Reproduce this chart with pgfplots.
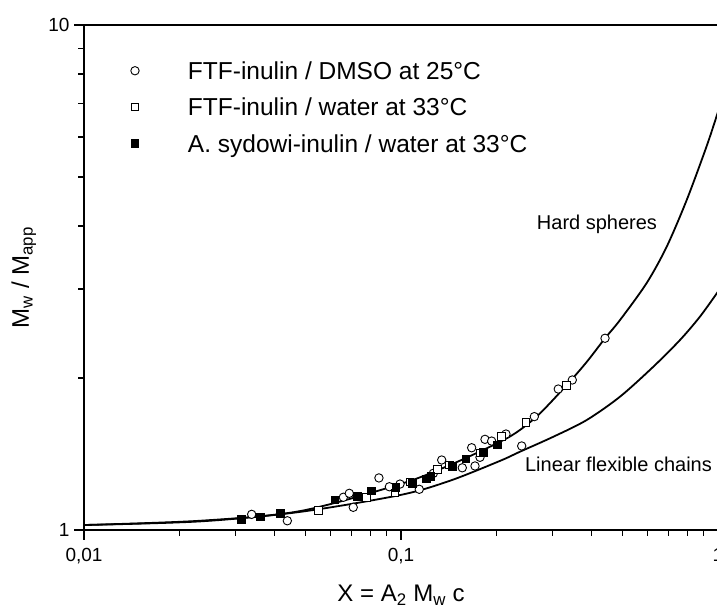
\documentclass[border=0pt]{standalone}
\usepackage{pgfplots}
\pgfplotsset{compat=1.18}
\usepackage{fontspec}
\setmainfont{Liberation Sans}
\begin{document}
\begin{tikzpicture}
\begin{axis}[
  at={(0pt,0pt)}, anchor=south west,
  scale only axis, width=634pt, height=505pt,
  xmode=log, ymode=log,
  xmin=0.01, xmax=1, ymin=1, ymax=10,
  xtick={0.01,0.1,1}, xticklabels={{0,01},{0,1},1},
  ytick={1,10}, yticklabels={1,10},
  tick align=outside, xtick pos=bottom, ytick pos=left,
  major tick length=10pt, minor tick length=6pt,
  axis line style={line width=1.3pt},
  tick style={line width=1.2pt, black},
  tick label style={font=\fontsize{19}{22}\selectfont},
  xticklabel style={yshift=-5pt},
  yticklabel style={xshift=-1pt},
  xlabel={X = A\textsubscript{2} M\textsubscript{w} c},
  ylabel={M\textsubscript{w} / M\textsubscript{app}},
  label style={font=\fontsize{24}{28}\selectfont},
  xlabel style={at={([yshift=-71.6pt]axis description cs:0.5,0)}, anchor=base},
  ylabel style={at={([xshift=-55pt]axis description cs:0,0.5)}, anchor=base, rotate=0},
  legend cell align=left,
  legend style={draw=none, fill=none, at={(axis description cs:0,1)}, anchor=north west,
    xshift=41pt, yshift=-37pt, row sep=18.8pt, inner sep=0pt, outer sep=0pt,
    font=\fontsize{24.5}{29}\selectfont,
    nodes={inner sep=0pt, text height=17.5pt, text depth=0pt}},
  legend image code/.code={\path[draw=none] (-10pt,0pt) -- (53pt,0pt); \draw[#1] plot coordinates {(0pt,0pt)};},
]
% Hard spheres
\addplot[black, line width=1.8pt, smooth, no marks, forget plot] coordinates {
(0.01,1.023) (0.0232,1.043) (0.048,1.090) (0.0995,1.233) (0.1428,1.345) (0.205,1.494)
(0.2373,1.578) (0.2745,1.702) (0.3333,1.937) (0.3853,2.151) (0.4402,2.397) (0.4909,2.605)
(0.5958,3.084) (0.689,3.639) (0.7969,4.503) (0.9213,5.76) (1.0,6.73)
};
% Linear flexible chains
\addplot[black, line width=1.8pt, smooth, no marks, forget plot] coordinates {
(0.01,1.023) (0.0232,1.040) (0.048,1.086) (0.0995,1.173) (0.1428,1.252) (0.205,1.370)
(0.2373,1.429) (0.3024,1.530) (0.3853,1.651) (0.4909,1.837) (0.625,2.105) (0.7589,2.378)
(0.8774,2.646) (1.0,2.965)
};
% FTF-inulin / DMSO
\addplot[only marks, mark=*, mark size=4.2pt, mark options={fill=white, draw=black, line width=0.9pt}] coordinates {
(0.0338,1.074) (0.0438,1.043) (0.0658,1.161) (0.0687,1.182) (0.0707,1.109) (0.0852,1.268)
(0.0919,1.218) (0.0993,1.233) (0.1142,1.204) (0.1344,1.376) (0.1265,1.295) (0.1561,1.328)
(0.1671,1.455) (0.1712,1.339) (0.1775,1.393) (0.1841,1.512) (0.1932,1.500) (0.2144,1.549)
(0.2403,1.467) (0.2634,1.677) (0.3134,1.902) (0.3471,1.982) (0.4402,2.397)
};
\addlegendentry{FTF-inulin / DMSO at 25°C}
% FTF-inulin / water
\addplot[only marks, mark=square*, mark size=3.8pt, mark options={fill=white, draw=black, line width=0.9pt}] coordinates {
(0.0548,1.092) (0.0779,1.161) (0.0957,1.185) (0.1068,1.246) (0.1302,1.319) (0.1421,1.345)
(0.1775,1.422) (0.2078,1.530) (0.2480,1.631) (0.3333,1.931)
};
\addlegendentry{FTF-inulin / water at 33°C}
% A. sydowi-inulin / water
\addplot[only marks, mark=square*, mark size=3.8pt, mark options={fill=black, draw=black, line width=0.9pt}] coordinates {
(0.0314,1.050) (0.0361,1.062) (0.0417,1.079) (0.0619,1.147) (0.0728,1.164) (0.0808,1.195)
(0.0964,1.213) (0.1086,1.237) (0.1205,1.262) (0.1243,1.275) (0.1456,1.335) (0.1603,1.382)
(0.1818,1.425) (0.2018,1.473)
};
\addlegendentry{A. sydowi-inulin / water at 33°C}
\node[anchor=base, font=\fontsize{20}{24}\selectfont] at (axis cs:0.4152,3.93) {Hard spheres};
\node[anchor=base, font=\fontsize{20}{24}\selectfont] at (axis cs:0.4854,1.303) {Linear flexible chains};
\end{axis}
\pgfresetboundingbox
\useasboundingbox (-84pt,-80pt) rectangle (633pt,530pt);
\end{tikzpicture}
\end{document}
